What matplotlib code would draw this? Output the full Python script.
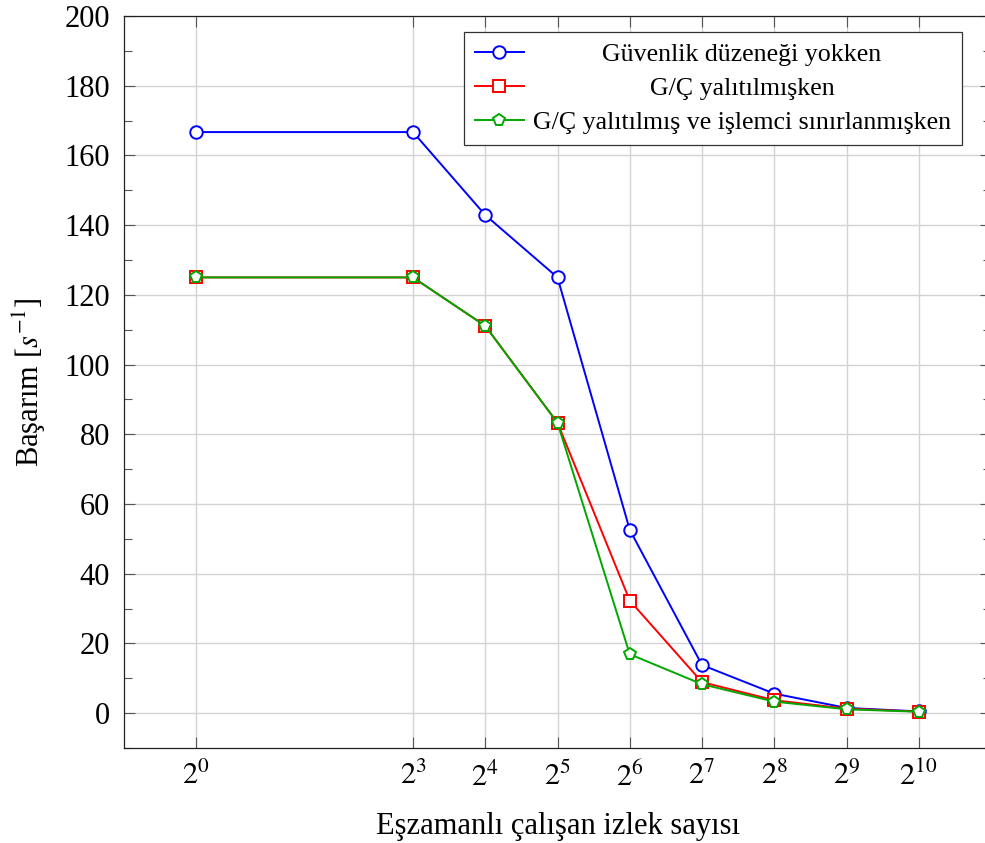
import matplotlib
matplotlib.use("Agg")
import matplotlib.pyplot as plt
from matplotlib.ticker import FixedLocator, MultipleLocator

# thread counts (2^k)
THREADS = [1, 8, 16, 32, 64, 128, 256, 512, 1024]
EXPONENTS = [0, 3, 4, 5, 6, 7, 8, 9, 10]

# throughput [1/s]
NO_SECURITY = [166.7, 166.7, 142.9, 125.0, 52.6, 13.8, 5.6, 1.5, 0.5]
IO_ISOLATED = [125.0, 125.0, 111.1, 83.3, 32.3, 8.9, 3.7, 1.3, 0.45]
IO_CPU_LIMITED = [125.0, 125.0, 111.1, 83.3, 16.9, 8.3, 3.3, 1.1, 0.4]

LABELS = [
    "Güvenlik düzeneği yokken",
    "G/Ç yalıtılmışken",
    "G/Ç yalıtılmış ve işlemci sınırlanmışken",
]

plt.rcParams["font.family"] = ["Liberation Serif", "DejaVu Serif"]
plt.rcParams["mathtext.fontset"] = "stix"

fig = plt.figure(figsize=(9.85, 8.43), dpi=100)
W, H = 985, 843
ax = fig.add_axes([124 / W, 1 - 748 / H, (991 - 124) / W, (748 - 16) / H])

styles = [
    ("#0000ff", "o", 9.0),
    ("#ff0000", "s", 8.5),
    ("#00a800", "p", 8.5),
]
series = [NO_SECURITY, IO_ISOLATED, IO_CPU_LIMITED]

for vals, label, (col, mk, ms) in zip(series, LABELS, styles):
    ax.plot(
        THREADS,
        vals,
        color=col,
        marker=mk,
        markersize=ms,
        markerfacecolor="white",
        markeredgecolor=col,
        markeredgewidth=1.4,
        linewidth=1.4,
        label=label,
        zorder=3,
    )

ax.set_xscale("log", base=2)
ax.set_xlim(2 ** -1, 2 ** 11)
ax.set_ylim(-10, 200)

ax.xaxis.set_major_locator(FixedLocator(THREADS))
ax.set_xticklabels([r"$2^{%d}$" % e for e in EXPONENTS])
ax.xaxis.set_minor_locator(FixedLocator([]))
ax.yaxis.set_major_locator(MultipleLocator(20))
ax.yaxis.set_minor_locator(MultipleLocator(10))
ax.set_yticks(range(0, 201, 20))

ax.tick_params(
    which="both", direction="in", top=True, right=True,
    color="#555555", labelsize=22, width=0.8,
)
ax.tick_params(which="major", length=8, pad=10)
ax.tick_params(which="minor", length=5.5)

ax.grid(True, which="major", color="#d3d3d3", linewidth=1.0)
ax.set_axisbelow(True)
for sp in ax.spines.values():
    sp.set_linewidth(0.9)
    sp.set_color("#222222")

ax.set_xlabel("Eşzamanlı çalışan izlek sayısı", fontsize=22, labelpad=14)
ax.set_ylabel(r"Başarım [$s^{-1}$]", fontsize=22, labelpad=12)

leg = ax.legend(
    loc="upper right",
    bbox_to_anchor=(962 / W, 1 - 32 / H),
    bbox_transform=fig.transFigure,
    borderaxespad=0,
    fontsize=18.6,
    frameon=True,
    fancybox=False,
    framealpha=1,
    edgecolor="#333333",
    handlelength=1.9,
    handletextpad=0.35,
    labelspacing=0.43,
    borderpad=0.42,
)
leg.get_frame().set_linewidth(0.9)

# center legend entries like pgfplots
fig.canvas.draw()
renderer = fig.canvas.get_renderer()
texts = leg.get_texts()
widths = [t.get_window_extent(renderer).width for t in texts]
wmax = max(widths)
for t, w in zip(texts, widths):
    t.set_position(((wmax - w) / 2, 0))

fig.savefig("out.png", dpi=100)
